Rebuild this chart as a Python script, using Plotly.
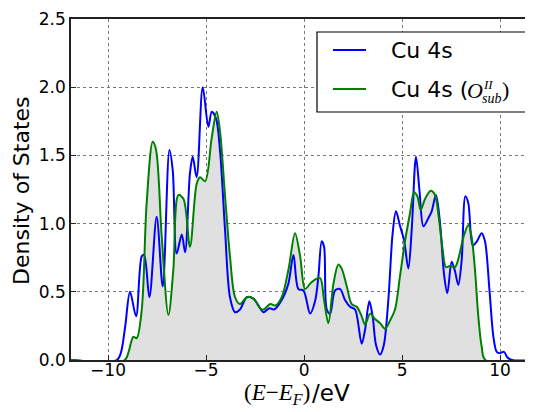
import plotly.graph_objects as go

# Cu 4s (blue)
e_blue = [-11.9, -9.55, -9.35, -9.13, -8.88, -8.57, -8.28, -8.16, -7.89, -7.52, -7.21, -6.87, -6.70, -6.50,
          -6.24, -6.07, -5.82, -5.68, -5.48, -5.17, -4.88, -4.71, -4.49, -4.29, -4.03, -3.78, -3.52, -3.27,
          -2.92, -2.58, -2.33, -2.07, -1.77, -1.53, -1.14, -0.80, -0.54, -0.29, -0.03, 0.31, 0.56, 0.73,
          0.90, 1.02, 1.16, 1.33, 1.58, 1.84, 2.09, 2.35, 2.60, 2.94, 3.11, 3.33, 3.50, 3.67, 3.88, 4.07,
          4.30, 4.52, 4.69, 4.90, 5.10, 5.32, 5.49, 5.71, 5.89, 6.09, 6.34, 6.51, 6.73, 6.94, 7.14, 7.31,
          7.53, 7.70, 7.87, 8.04, 8.23, 8.38, 8.61, 8.82, 9.06, 9.23, 9.46, 9.66, 9.83, 10.0, 10.2, 10.37,
          10.6, 11.7]
dos_blue = [0, 0, 0.05, 0.24, 0.50, 0.32, 0.76, 0.77, 0.46, 1.05, 0.54, 1.54, 1.39, 0.78,
            0.92, 0.79, 1.37, 1.49, 1.34, 2.00, 1.71, 1.82, 1.77, 1.54, 0.95, 0.46, 0.35, 0.37,
            0.46, 0.45, 0.40, 0.35, 0.38, 0.37, 0.44, 0.56, 0.77, 0.52, 0.51, 0.34, 0.43, 0.61,
            0.87, 0.83, 0.37, 0.34, 0.51, 0.52, 0.44, 0.39, 0.37, 0.12, 0.22, 0.43, 0.32, 0.11, 0.04, 0.11,
            0.44, 0.93, 1.09, 0.98, 0.88, 0.67, 0.95, 1.49, 1.24, 0.98, 1.04, 1.09, 1.21, 1.00, 0.63, 0.49,
            0.72, 0.65, 0.55, 0.73, 1.20, 1.15, 0.84, 0.87, 0.93, 0.87, 0.51, 0.17, 0.06, 0.05, 0.06, 0.02,
            0, 0]

# Cu 4s (O_sub^II) (green)
e_green = [-11.9, -9.15, -8.95, -8.71, -8.54, -8.28, -8.03, -7.72, -7.55, -7.26, -6.92, -6.67, -6.41, -6.15,
           -5.82, -5.48, -5.31, -5.05, -4.71, -4.46, -4.29, -4.03, -3.78, -3.52, -3.27, -2.92, -2.58, -2.24,
           -2.07, -1.73, -1.45, -1.14, -0.80, -0.46, -0.20, 0.05, 0.31, 0.56, 0.82, 1.02, 1.24, 1.50, 1.75,
           1.92, 2.18, 2.43, 2.69, 2.94, 3.11, 3.37, 3.62, 3.88, 4.13, 4.39, 4.64, 4.90, 5.15, 5.41, 5.61,
           5.78, 5.95, 6.17, 6.46, 6.68, 6.85, 7.07, 7.24, 7.44, 7.70, 7.87, 8.13, 8.38, 8.55, 8.72, 8.89,
           9.06, 9.25, 11.7]
dos_green = [0, 0, 0.06, 0.17, 0.16, 0.37, 1.15, 1.60, 1.54, 0.90, 0.33, 0.66, 1.21, 1.18,
             0.83, 1.29, 1.34, 1.31, 1.63, 1.82, 1.68, 1.20, 0.76, 0.46, 0.41, 0.46, 0.45, 0.38,
             0.37, 0.41, 0.40, 0.46, 0.66, 0.93, 0.76, 0.52, 0.56, 0.59, 0.60, 0.44, 0.27, 0.56, 0.70,
             0.67, 0.54, 0.41, 0.39, 0.32, 0.26, 0.34, 0.30, 0.27, 0.23, 0.29, 0.37, 0.62, 0.87, 1.08, 1.23,
             1.20, 1.10, 1.18, 1.24, 1.21, 1.07, 0.81, 0.68, 0.69, 0.68, 0.74, 0.90, 0.99, 0.90, 0.66, 0.32,
             0.10, 0.0, 0]

x_ticks = [-10, -5, 0, 5, 10]
x_tick_text = ["\u221210", "\u22125", "0", "5", "10"]
y_ticks = [0.0, 0.5, 1.0, 1.5, 2.0, 2.5]
y_tick_text = ["0.0", "0.5", "1.0", "1.5", "2.0", "2.5"]
legend_names = ["Cu 4s", "Cu 4s ("]
colors = ["#0000ff", "#008000"]

SERIF = "Liberation Serif"
SANS = "DejaVu Sans"

# page-pixel -> paper coordinate helpers (plot area spans x 71..533, y 19..360 on the page)
PX0, PX1, PY0, PY1 = 71.0, 533.0, 19.0, 360.0
def px(x):
    return (x - PX0) / (PX1 - PX0)
def py(y):
    return (PY1 - y) / (PY1 - PY0)

fig = go.Figure()
fig.add_trace(go.Scatter(x=e_green, y=dos_green, mode="lines", fill="tozeroy",
                         fillcolor="#e0e0e0", line=dict(width=0, shape="spline", smoothing=0.9),
                         showlegend=False, hoverinfo="skip"))
fig.add_trace(go.Scatter(x=e_blue, y=dos_blue, mode="lines", name="Cu 4s", showlegend=False,
                         line=dict(color=colors[0], width=2, shape="spline", smoothing=0.9)))
fig.add_trace(go.Scatter(x=e_green, y=dos_green, mode="lines", name="Cu 4s (O_sub^II)", showlegend=False,
                         line=dict(color=colors[1], width=2, shape="spline", smoothing=0.9)))

shapes = [
    dict(type="rect", xref="paper", yref="paper", x0=px(317), x1=px(528), y0=py(112), y1=py(32),
         line=dict(color="black", width=1.2), fillcolor="white", layer="above"),
    dict(type="line", xref="paper", yref="paper", x0=px(333), x1=px(366), y0=py(50), y1=py(50),
         line=dict(color=colors[0], width=2), layer="above"),
    dict(type="line", xref="paper", yref="paper", x0=px(333), x1=px(366), y0=py(89), y1=py(89),
         line=dict(color=colors[1], width=2), layer="above"),
]

annotations = [
    dict(text=legend_names[0], x=px(389), y=py(50), xref="paper", yref="paper", xanchor="left",
         yanchor="middle", showarrow=False, font=dict(family=SANS, size=22)),
    dict(text=legend_names[1], x=px(389), y=py(89), xref="paper", yref="paper", xanchor="left",
         yanchor="middle", showarrow=False, font=dict(family=SANS, size=22)),
    dict(text="<i>O</i>", x=px(465), y=py(90), xref="paper", yref="paper", xanchor="left",
         yanchor="middle", showarrow=False, font=dict(family=SERIF, size=22)),
    dict(text="<i>II</i>", x=px(481), y=py(84), xref="paper", yref="paper", xanchor="left",
         yanchor="middle", showarrow=False, font=dict(family=SERIF, size=13)),
    dict(text="<i>sub</i>", x=px(480), y=py(98), xref="paper", yref="paper", xanchor="left",
         yanchor="middle", showarrow=False, font=dict(family=SERIF, size=14)),
    dict(text=")", x=px(500), y=py(89), xref="paper", yref="paper", xanchor="left",
         yanchor="middle", showarrow=False, font=dict(family=SERIF, size=22)),
    dict(text="(<i>E</i>\u2212<i>E</i><sub><i>F</i></sub>)", x=px(242), y=py(394), xref="paper", yref="paper",
         xanchor="left", yanchor="middle", showarrow=False, font=dict(family=SERIF, size=23)),
    dict(text="/eV", x=px(310), y=py(393), xref="paper", yref="paper",
         xanchor="left", yanchor="middle", showarrow=False, font=dict(family=SANS, size=23)),
    dict(text="Density of States", x=px(21), y=py(191), xref="paper", yref="paper", textangle=-90,
         xanchor="center", yanchor="middle", showarrow=False, font=dict(family=SANS, size=22)),
]

fig.update_layout(
    width=525, height=404,
    margin=dict(l=63, r=0, t=11, b=52),
    paper_bgcolor="white", plot_bgcolor="white",
    font=dict(family=SANS, color="black", size=17),
    showlegend=False,
    shapes=shapes,
    annotations=annotations,
    xaxis=dict(range=[-11.89, 11.68], tickvals=x_ticks, ticktext=x_tick_text,
               showgrid=True, gridcolor="#777", griddash="dot", gridwidth=1,
               showline=True, linecolor="#222", linewidth=1.5, mirror=True,
               ticks="inside", ticklen=5, tickcolor="#222", zeroline=False, automargin=False,
               ticklabelstandoff=-6),
    yaxis=dict(range=[0, 2.5], tickvals=y_ticks, ticktext=y_tick_text,
               showgrid=True, gridcolor="#777", griddash="dot", gridwidth=1,
               showline=True, linecolor="#222", linewidth=1.5, mirror=True,
               ticks="inside", ticklen=5, tickcolor="#222", zeroline=False, automargin=False),
)

fig.write_html("out.html")
